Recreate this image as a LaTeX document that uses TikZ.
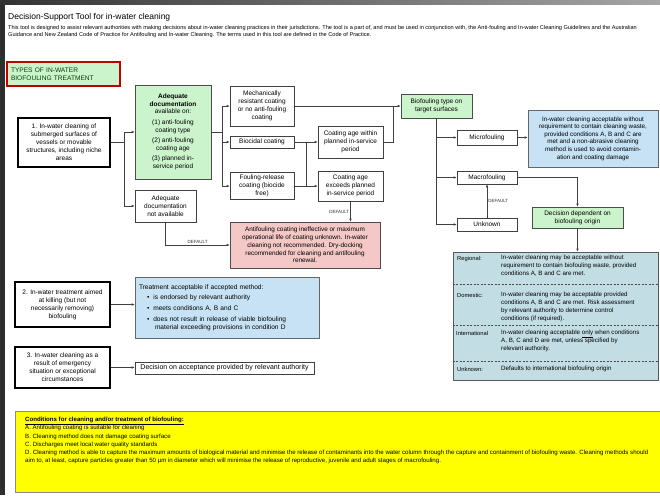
\documentclass[tikz,border=0pt]{standalone}
\usepackage{fontspec}
\setmainfont{Liberation Sans}
\usetikzlibrary{arrows.meta,calc}
\definecolor{grnfill}{RGB}{204,244,204}
\definecolor{bluefill}{RGB}{198,226,244}
\definecolor{tblfill}{RGB}{194,222,228}
\definecolor{redfill}{RGB}{245,200,200}
\definecolor{yelfill}{RGB}{255,255,0}
\tikzset{
  bx/.style={draw=black!75, line width=0.6pt, fill=white, align=center, inner sep=1pt,
    font=\fontsize{6.5}{8}\selectfont},
  thickbx/.style={bx, draw=black, line width=1.5pt},
  grn/.style={bx, fill=grnfill, draw=black!70},
  blu/.style={bx, fill=bluefill, draw=black!60},
  arr/.style={-{Latex[length=3pt,width=2.6pt]}, line width=0.6pt, draw=black!75},
  ln/.style={line width=0.6pt, draw=black!75},
  deflabel/.style={font=\fontsize{4.5}{5}\selectfont, inner sep=1pt, text=black!80},
  rowtxt/.style={anchor=north west, align=left, inner sep=0pt, font=\fontsize{6.2}{8}\selectfont},
  rowlab/.style={anchor=north west, align=left, inner sep=0pt, font=\fontsize{5.8}{8}\selectfont},
  sep/.style={line width=0.5pt, draw=black!70, dash pattern=on 2pt off 1.5pt}
}
\begin{document}
\begin{tikzpicture}[x=1pt,y=-1pt]
\useasboundingbox (0,0) rectangle (660,495);
\fill[white] (0,0) rectangle (660,495);
\fill[black!82] (0,0) rectangle (5,495);
\shade[left color=black!80, right color=black!35] (0,0) rectangle (660,5);

% title and intro
\node[anchor=west, inner sep=0pt, font=\fontsize{8.5}{10}\selectfont] (title) at (8,17) {Decision-Support Tool for in-water cleaning};
\node[anchor=north west, align=left, inner sep=0pt, font=\fontsize{5.6}{6.8}\selectfont] (intro) at (8,25)
 {This tool is designed to assist relevant authorities with making decisions about in-water cleaning practices in their jurisdictions. The tool is a part of, and must be used in conjunction with, the Anti-fouling and In-water Cleaning Guidelines and the Australian\\
  Guidance and New Zealand Code of Practice for Antifouling and In-water Cleaning. The terms used in this tool are defined in the Code of Practice.};

\node[draw=red!75!black, line width=1.2pt, fill=grnfill, minimum width=113, minimum height=24, align=left, text width=105,
  inner sep=2pt, font=\fontsize{6.6}{8.3}\selectfont, text=green!25!black] (types) at (63.5,74) {TYPES OF IN-WATER\\BIOFOULING TREATMENT};

% left column
\node[thickbx, minimum width=92, minimum height=49] (b1) at (64,142.5)
 {1. In-water cleaning of\\submerged surfaces of\\vessels or movable\\structures, including niche\\areas};
\node[thickbx, minimum width=95, minimum height=45] (b2) at (62.5,304.5)
 {2. In-water treatment aimed\\at killing (but not\\necessarily removing)\\biofouling};
\node[thickbx, minimum width=95, minimum height=41] (b3) at (62.5,367.5)
 {3. In-water cleaning as a\\result of emergency\\situation or exceptional\\circumstances};

% documentation
\node[grn, minimum width=76, minimum height=94, font=\fontsize{6.5}{7.6}\selectfont] (doc) at (173,132)
 {\textbf{Adequate}\\\textbf{documentation}\\available on:\\[3pt](1) anti-fouling\\coating type\\[3pt](2) anti-fouling\\coating age\\[3pt](3) planned in-\\service period};
\node[bx, minimum width=61, minimum height=32] (notavail) at (165.5,206)
 {Adequate\\documentation\\not available};

% coatings
\node[bx, minimum width=64, minimum height=40] (mech) at (262,106)
 {Mechanically\\resistant coating\\or no anti-fouling\\coating};
\node[bx, minimum width=64, minimum height=12] (biocidal) at (262,142) {Biocidal coating};
\node[bx, minimum width=64, minimum height=27] (foulrel) at (262,186)
 {Fouling-release\\coating (biocide\\free)};
\node[bx, minimum width=65, minimum height=32] (within) at (350.5,142)
 {Coating age within\\planned in-service\\period};
\node[bx, minimum width=65, minimum height=30] (exceeds) at (350.5,186)
 {Coating age\\exceeds planned\\in-service period};
\node[bx, fill=redfill, draw=black!70, minimum width=150, minimum height=46, font=\fontsize{6.4}{7.8}\selectfont] (red) at (305,245)
 {Antifouling coating ineffective or maximum\\operational life of coating unknown. In-water\\cleaning not recommended. Dry-docking\\recommended for cleaning and antifouling\\renewal.};

% biofouling type
\node[grn, minimum width=71, minimum height=24] (biotype) at (436.5,106) {Biofouling type on\\target surfaces};
\node[bx, minimum width=60, minimum height=15] (micro) at (487,137.5) {Microfouling};
\node[bx, minimum width=60, minimum height=13] (macro) at (487,177.5) {Macrofouling};
\node[bx, minimum width=60, minimum height=13] (unknown) at (487,224.5) {Unknown};
\node[blu, minimum width=130, minimum height=57, font=\fontsize{6.3}{7.6}\selectfont] (blue1) at (593,138.5)
 {In-water cleaning acceptable without\\requirement to contain cleaning waste,\\provided conditions A, B and C are\\met and a non-abrasive cleaning\\method is used to avoid contamin-\\ation and coating damage};
\node[grn, minimum width=91, minimum height=21] (origin) at (577.5,217.5) {Decision dependent on\\biofouling origin};

% table
\node[draw=black!65, line width=0.8pt, fill=tblfill, minimum width=205, minimum height=128, inner sep=0pt] (tbl) at (555.5,316) {};
\draw[sep] ($(tbl.north west)+(0,33)$) -- ($(tbl.north east)+(0,33)$);
\draw[sep] ($(tbl.north west)+(0,74)$) -- ($(tbl.north east)+(0,74)$);
\draw[sep] ($(tbl.north west)+(0,110)$) -- ($(tbl.north east)+(0,110)$);
\node[rowlab] (lreg) at (457,256) {Regional:};
\node[rowtxt] (treg) at (501,255) {In-water cleaning may be acceptable without\\requirement to contain biofouling waste, provided\\conditions A, B and C are met.};
\node[rowlab] (ldom) at (457,293) {Domestic:};
\node[rowtxt] (tdom) at (501,292) {In-water cleaning may be acceptable provided\\conditions A, B and C are met. Risk assessment\\by relevant authority to determine control\\conditions (if required).};
\node[rowlab] (lint) at (456,331) {International};
\node[rowtxt] (tint) at (501,330) {In-water cleaning acceptable \underline{only} when conditions\\A, B, C and D are met, unless specified by\\relevant authority.};
\node[rowlab] (lunk) at (457,367) {Unknown:};
\node[rowtxt] (tunk) at (501,366) {Defaults to international biofouling origin};

% treatment / emergency
\node[blu, minimum width=184, minimum height=61, align=left, text width=176, font=\fontsize{6.6}{7.8}\selectfont] (blue2) at (227,307.5)
 {Treatment acceptable if accepted method:\\[3pt]
  \hspace*{8pt}\textbullet\hspace*{4pt}is endorsed by relevant authority\\[3pt]
  \hspace*{8pt}\textbullet\hspace*{4pt}meets conditions A, B and C\\[3pt]
  \hspace*{8pt}\textbullet\hspace*{4pt}does not result in release of viable biofouling\\
  \hspace*{16pt}material exceeding provisions in condition D};
\node[bx, minimum width=179, minimum height=12, font=\fontsize{7}{8}\selectfont] (accept) at (224.5,368)
 {Decision on acceptance provided by relevant authority};

% conditions
\node[draw=black!45, line width=0.8pt, fill=yelfill, minimum width=650, minimum height=81, anchor=north west, inner sep=0pt] (yel) at (15,411) {};
\node[anchor=north west, align=left, inner sep=0pt, font=\fontsize{6.1}{8.2}\selectfont] (yeltxt) at (25,417)
 {\underline{\textbf{Conditions for cleaning and/or treatment of biofouling:}}\\
  A. Antifouling coating is suitable for cleaning\\
  B. Cleaning method does not damage coating surface\\
  C. Discharges meet local water quality standards\\
  D. Cleaning method is able to capture the maximum amounts of biological material and minimise the release of contaminants into the water column through the capture and containment of biofouling waste. Cleaning methods should\\
  aim to, at least, capture particles greater than 50 \textmu m in diameter which will minimise the release of reproductive, juvenile and adult stages of macrofouling.};

% connectors
\coordinate (j1) at (124,142.5);
\draw[ln] (b1.east) -- (j1);
\draw[arr] (j1) |- (doc);
\draw[arr] (j1) |- (notavail);
\coordinate (j2) at (222,132);
\draw[ln] (doc.east) -- (j2);
\draw[arr] (j2) |- (mech);
\draw[arr] (j2) |- (biocidal);
\draw[arr] (j2) |- (foulrel);
\coordinate (j3) at (306,142);
\draw[ln] (biocidal.east) -- (j3);
\draw[arr] (j3) |- (within);
\draw[arr] (j3) |- (exceeds);
\draw[ln] (foulrel.east) -- (foulrel.east -| j3);
\draw[arr] (mech.east) -- (biotype.west);
\coordinate (j4) at (393,106);
\draw[ln] (within.east) -| (j4);
\draw[arr] (exceeds.south) -- (exceeds.south |- red.north) node[midway, left, deflabel] {DEFAULT};
\draw[arr] (notavail.south) |- (red.west) node[pos=0.75, above, deflabel] {DEFAULT};
\draw[arr] (biotype.south) |- (micro);
\draw[arr] (biotype.south) |- (macro);
\draw[arr] (biotype.south) |- (unknown);
\draw[arr] (micro.east) -- (micro.east -| blue1.west);
\draw[arr] (unknown.north) -- (macro.south) node[midway, right, deflabel] {DEFAULT};
\draw[arr] (macro.east) -| (origin.north);
\draw[arr] (origin.south) -- (origin.south |- tbl.north);
\draw[arr] (b2.east) -- (b2.east -| blue2.west);
\draw[arr] (b3.east) -- (b3.east -| accept.west);
\end{tikzpicture}
\end{document}
